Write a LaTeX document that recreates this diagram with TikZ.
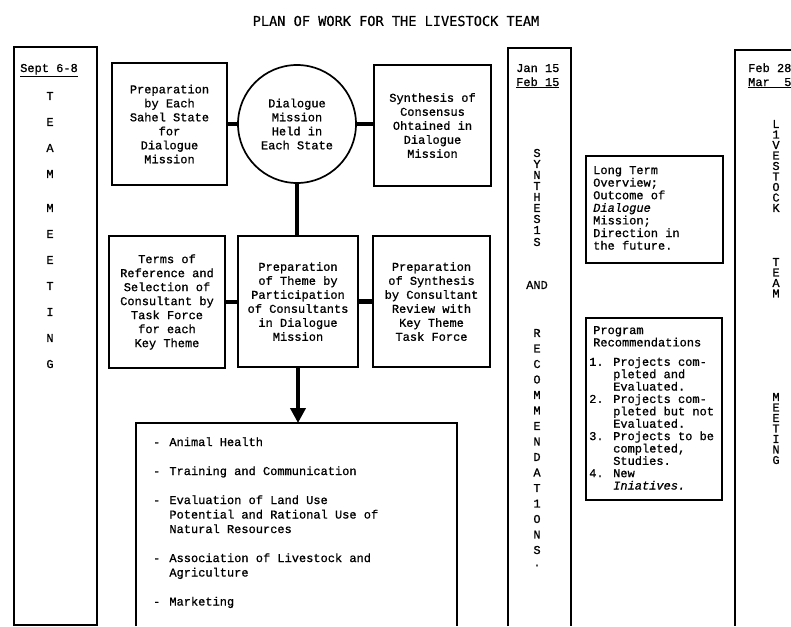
\documentclass[tikz,border=0pt]{standalone}
\usepackage{fontspec}
\usetikzlibrary{arrows.meta}
\newfontfamily\typer[FakeBold=0.9]{Liberation Mono}
\newfontfamily\letterer[FakeBold=0.6]{DejaVu Sans Mono}
\begin{document}
\begin{tikzpicture}[x=1pt,y=-1pt,
  typed/.style={font=\typer\fontsize{12}{14}\selectfont, inner sep=0pt},
  box/.style={typed, draw, line width=1.7pt, align=center},
  frame/.style={line width=2.6pt},
  link/.style={line width=4.2pt},
  vletter/.style={typed, anchor=center},
]
\useasboundingbox (0,0) rectangle (791,626);

% heading
\node[font=\letterer\fontsize{13.6}{15}\selectfont] (title) at (396,21) {PLAN OF WORK FOR THE LIVESTOCK TEAM};

% ---- left time column ----
\draw[frame] (14,47) rectangle (97,625);
\node[typed, anchor=base west] (sept) at (20,72) {\underline{Sept 6-8}};
\foreach \ch/\yy [count=\k] in {T/96,E/122,A/148,M/174,M/208,E/234,E/260,T/286,I/312,N/338,G/364}
  \node[vletter] (lm\k) at (50,\yy) {\ch};

% ---- middle time column ----
\draw[frame] (508,626) |- (571,48) -- (571,626);
\node[typed, anchor=base west] (jan) at (516,72) {\begin{tabular}[t]{@{}l@{}}Jan 15\\\underline{Feb 15}\end{tabular}};
\foreach \ch/\yy [count=\k] in {S/153,Y/164,N/175,T/186,H/197,E/208,S/219,1/230,S/242}
  \node[vletter] (syn\k) at (537,\yy) {\ch};
\node[vletter] (and) at (537,285) {AND};
\foreach \ch/\yy [count=\k] in {R/333,E/348.5,C/364,O/379.5,M/395,M/410.5,E/426,N/441.5,D/457,A/472.5,T/488,1/503.5,O/519,N/534.5,S/550,./565.5}
  \node[vletter] (rec\k) at (537,\yy) {\ch};

% ---- right time column ----
\draw[frame] (791,50) -| (735,626);
\node[typed, anchor=base west] (feb) at (748,72) {\begin{tabular}[t]{@{}l@{}}Feb 28\\\underline{Mar~~5}\end{tabular}};
\foreach \ch/\yy [count=\k] in {L/124,1/134.5,V/145,E/155.5,S/166,T/176.5,O/187,C/197.5,K/208,
  T/262,E/272.5,A/283,M/293.5,M/397,E/407.5,E/418,T/428.5,I/439,N/449.5,G/460}
  \node[vletter] (ltm\k) at (776,\yy) {\ch};

% ---- first row ----
\node[box, minimum width=115, minimum height=122] (prep) at (169.5,124)
  {Preparation\\by Each\\Sahel State\\for\\Dialogue\\Mission};
\node[typed, draw, line width=1.7pt, circle, align=center, minimum size=118] (dlg) at (297,124)
  {Dialogue\\Mission\\Held in\\Each State};
\node[box, minimum width=117, minimum height=121] (cons) at (432.5,125.5)
  {Synthesis of\\Consensus\\Ohtained in\\Dialogue\\Mission};

% ---- second row ----
\node[box, minimum width=116, minimum height=132] (terms) at (167,302)
  {Terms of\\Reference and\\Selection of\\Consultant by\\Task Force\\for each\\Key Theme};
\node[box, minimum width=120, minimum height=131] (theme) at (298,301.5)
  {Preparation\\of Theme by\\Participation\\of Consultants\\in Dialogue\\Mission};
\node[box, minimum width=117, minimum height=131] (synth) at (431.5,301.5)
  {Preparation\\of Synthesis\\by Consultant\\Review with\\Key Theme\\Task Force};

% connectors
\draw[link] (prep.east) -- (dlg.west);
\draw[link] (dlg.east) -- (dlg.east -| cons.west);
\draw[link] (dlg.south) -- (dlg.south |- theme.north);
\draw[link] (terms.east) -- (terms.east -| theme.west);
\draw[link] (theme.east) -- (theme.east -| synth.west);

% ---- key themes ----
\coordinate (listtop) at (298,423);
\draw[link, -{Triangle[width=15pt,length=15pt]}] (theme.south) -- (listtop);
\draw[line width=1.7pt] (136,626) |- (457,423) -- (457,626);
\node[typed, anchor=base west, font=\typer\fontsize{12}{14.5}\selectfont] (topics) at (153,446)
  {\begin{tabular}[t]{@{}l@{\hspace{9pt}}l@{}}
   - & Animal Health\\[14.5pt]
   - & Training and Communication\\[14.5pt]
   - & Evaluation of Land Use\\
     & Potential and Rational Use of\\
     & Natural Resources\\[14.5pt]
   - & Association of Livestock and\\
     & Agriculture\\[14.5pt]
   - & Marketing
   \end{tabular}};

% ---- outcome boxes ----
\draw[line width=1.7pt] (586,156) rectangle (723,263);
\node[typed, anchor=base west, font=\typer\fontsize{12}{12.6}\selectfont] (overview) at (593,174)
  {\begin{tabular}[t]{@{}l@{}}Long Term\\Overview;\\Outcome of\\\textit{Dialogue}\\Mission;\\Direction in\\the future.\end{tabular}};
\draw[line width=1.7pt] (586,318) rectangle (722,500);
\node[typed, anchor=base west, font=\typer\fontsize{12}{12.3}\selectfont] (program) at (589,334)
  {\begin{tabular}[t]{@{}l@{}}
   \hspace{4pt}Program\\\hspace{4pt}Recommendations\\[7pt]
   1. Projects com-\\\phantom{1. }pleted and\\\phantom{1. }Evaluated.\\
   2. Projects com-\\\phantom{2. }pleted but not\\\phantom{2. }Evaluated.\\
   3. Projects to be\\\phantom{3. }completed,\\\phantom{3. }Studies.\\
   4. New\\\phantom{4. }\textit{Iniatives.}
   \end{tabular}};
\end{tikzpicture}
\end{document}
